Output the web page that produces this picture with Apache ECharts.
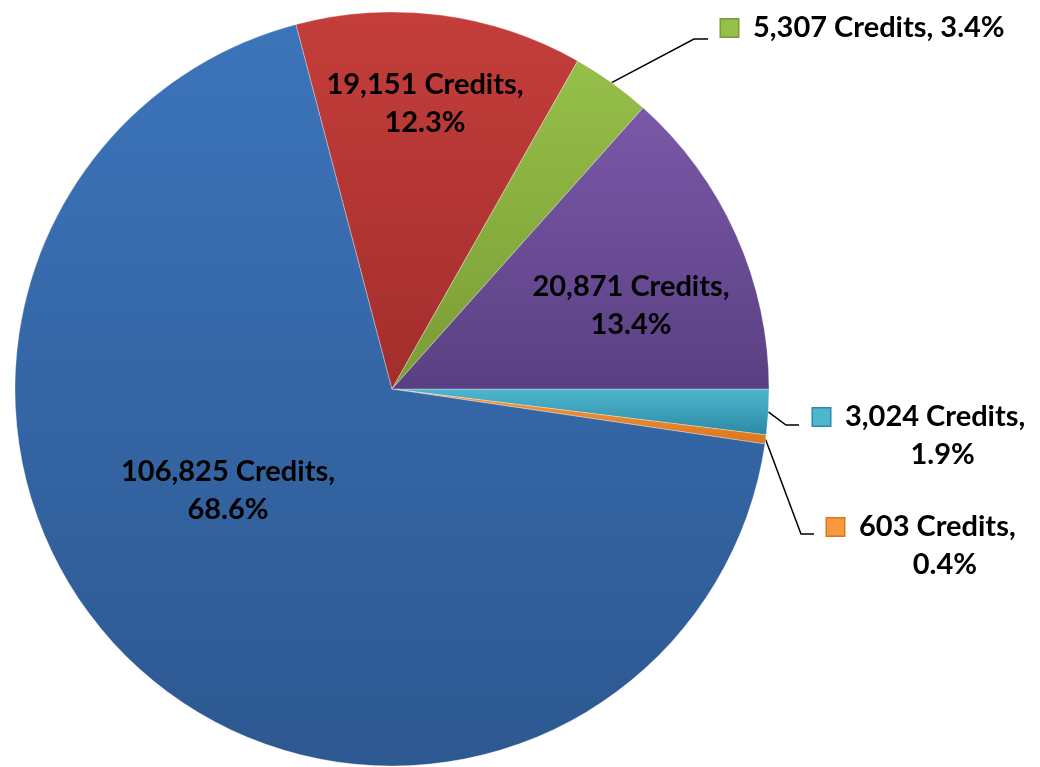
<!DOCTYPE html>
<html>
<head>
<meta charset="utf-8">
<style>
  html, body { margin: 0; padding: 0; background: #fff; }
  #main { width: 1040px; height: 767px; }
</style>
<script src="https://cdn.jsdelivr.net/npm/echarts@6/dist/echarts.min.js"></script>
</head>
<body>
<div id="main"></div>
<script>
// slices clockwise, first one starts at 3 o'clock
var categories = ['Cyan', 'Orange', 'Blue', 'Red', 'Green', 'Purple'];
var credits = [3024, 603, 106825, 19151, 5307, 20871];
var topColors = ['#4fb6d0', '#f7993f', '#3c74ba', '#c43e3b', '#96bf4a', '#7a58a8'];
var bottomColors = ['#2c8aa3', '#d9761f', '#2d5891', '#a22e2c', '#7a9c34', '#5a4082'];

var myChart = echarts.init(document.getElementById('main'));

var cx = 392, cy = 389, R = 377;

// where each label sits: inside ones centred, outside ones start at the key square
var labelSpots = {
	0: {x: 813, y: 436, out: true, elbow: [[786, 425], [799, 425]]},
	1: {x: 827, y: 546, out: true, elbow: [[801, 534], [814, 534]]},
	2: {x: 228, y: 491},
	3: {x: 425, y: 104},
	4: {x: 721, y: 28, out: true, elbow: [[694, 39], [708, 39]]},
	5: {x: 631, y: 306}
};

var total = credits.reduce(function (a, b) { return a + b; }, 0);

function edgePoint(i) {
	var before = 0;
	for (var k = 0; k < i; k++) before += credits[k];
	var mid = (before + credits[i] / 2) / total * Math.PI * 2;
	return [cx + R * Math.cos(mid), cy + R * Math.sin(mid)];
}

function fmt(n) {
	return String(n).replace(/\B(?=(\d{3})+(?!\d))/g, ',');
}

var data = credits.map(function (v, i) {
	var spot = labelSpots[i];
	var item = {
		name: categories[i],
		value: v,
		itemStyle: {
			color: new echarts.graphic.LinearGradient(0, 0, 0, 1, [
				{offset: 0, color: topColors[i]},
				{offset: 1, color: bottomColors[i]}
			])
		},
		labelLine: {show: !!spot.out}
	};
	if (spot.out) {
		item.label = {
			formatter: function (p) {
				var pct = p.percent.toFixed(1) + '%';
				if (p.dataIndex === 4) {
					return '{sq' + i + '|}{t|' + fmt(p.value) + ' Credits, ' + pct + '}';
				}
				return '{sq' + i + '|}{c|' + fmt(p.value) + ' Credits,}\n{sp|}{c|' + pct + '}';
			}
		};
	}
	return item;
});

var rich = {
	t: {fontSize: 29, fontWeight: 'bold', fontFamily: 'Lato', color: '#000', lineHeight: 38, padding: [0, 0, 0, 15]},
	c: {fontSize: 29, fontWeight: 'bold', fontFamily: 'Lato', color: '#000', lineHeight: 38, align: 'center', padding: [0, 0, 0, 15]},
	sp: {width: 32, height: 18}
};
[0, 1, 4].forEach(function (i) {
	rich['sq' + i] = {
		width: 17, height: 17,
		backgroundColor: topColors[i],
		borderColor: bottomColors[i],
		borderWidth: 1.5
	};
});

var option = {
	animation: false,
	series: [
		{
			type: 'pie',
			center: [cx, cy],
			radius: R,
			startAngle: 0,
			clockwise: true,
			avoidLabelOverlap: false,
			data: data,
			itemStyle: {
				borderColor: 'rgba(255,255,255,0.3)',
				borderWidth: 1
			},
			label: {
				show: true,
				position: 'outside',
				color: '#000',
				fontSize: 29,
				fontWeight: 'bold',
				fontFamily: 'Lato',
				lineHeight: 38,
				align: 'center',
				formatter: function (p) {
					return fmt(p.value) + ' Credits,\n' + p.percent.toFixed(1) + '%';
				},
				rich: rich
			},
			labelLine: {
				lineStyle: {color: '#000', width: 1.5}
			},
			labelLayout: function (params) {
				var spot = labelSpots[params.dataIndex];
				var res = {
					x: spot.x,
					y: spot.y,
					align: spot.out ? 'left' : 'center',
					verticalAlign: 'middle'
				};
				if (spot.out) {
					res.labelLinePoints = [edgePoint(params.dataIndex)].concat(spot.elbow);
				}
				return res;
			}
		}
	]
};
myChart.setOption(option);
window.addEventListener('resize', function () {
	myChart.resize();
});
</script>
</body>
</html>
